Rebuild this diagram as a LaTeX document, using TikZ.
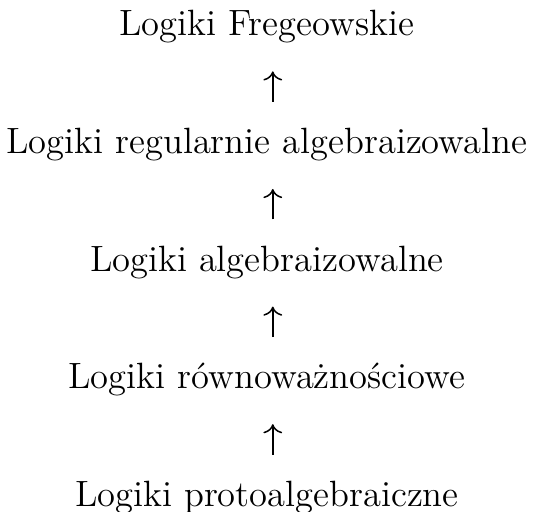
\documentclass[tikz,border=0pt]{standalone}
\usepackage{fontspec}
\usepackage{tikz}
\usetikzlibrary{arrows.meta,positioning}

\begin{document}
\begin{tikzpicture}[
    cls/.style={inner sep=0pt, text height=10pt, text depth=3pt, font=\Large},
    arr/.style={-{Computer Modern Rightarrow[length=3.6pt, width=7.4pt]}, line width=0.6pt, shorten <=10.1pt, shorten >=10.8pt},
    node distance=32.9pt
  ]
    \useasboundingbox (0,0) rectangle (212.6pt,-201.2pt);
    \node[cls, anchor=base] (fregean) at (105.1pt,-14.1pt) {Logiki Fregeowskie};
    \node[cls, below=of fregean] (regalg) {Logiki regularnie algebraizowalne};
    \node[cls, below=of regalg] (alg) {Logiki algebraizowalne};
    \node[cls, below=of alg] (equiv) {Logiki równoważnościowe};
    \node[cls, below=of equiv] (protoalg) {Logiki protoalgebraiczne};
    \draw[arr] ([xshift=2.3pt]regalg.north) -- ([xshift=2.3pt]fregean.south);
    \draw[arr] ([xshift=2.3pt]alg.north) -- ([xshift=2.3pt]regalg.south);
    \draw[arr] ([xshift=2.3pt]equiv.north) -- ([xshift=2.3pt]alg.south);
    \draw[arr] ([xshift=2.3pt]protoalg.north) -- ([xshift=2.3pt]equiv.south);
  \end{tikzpicture}
\end{document}
